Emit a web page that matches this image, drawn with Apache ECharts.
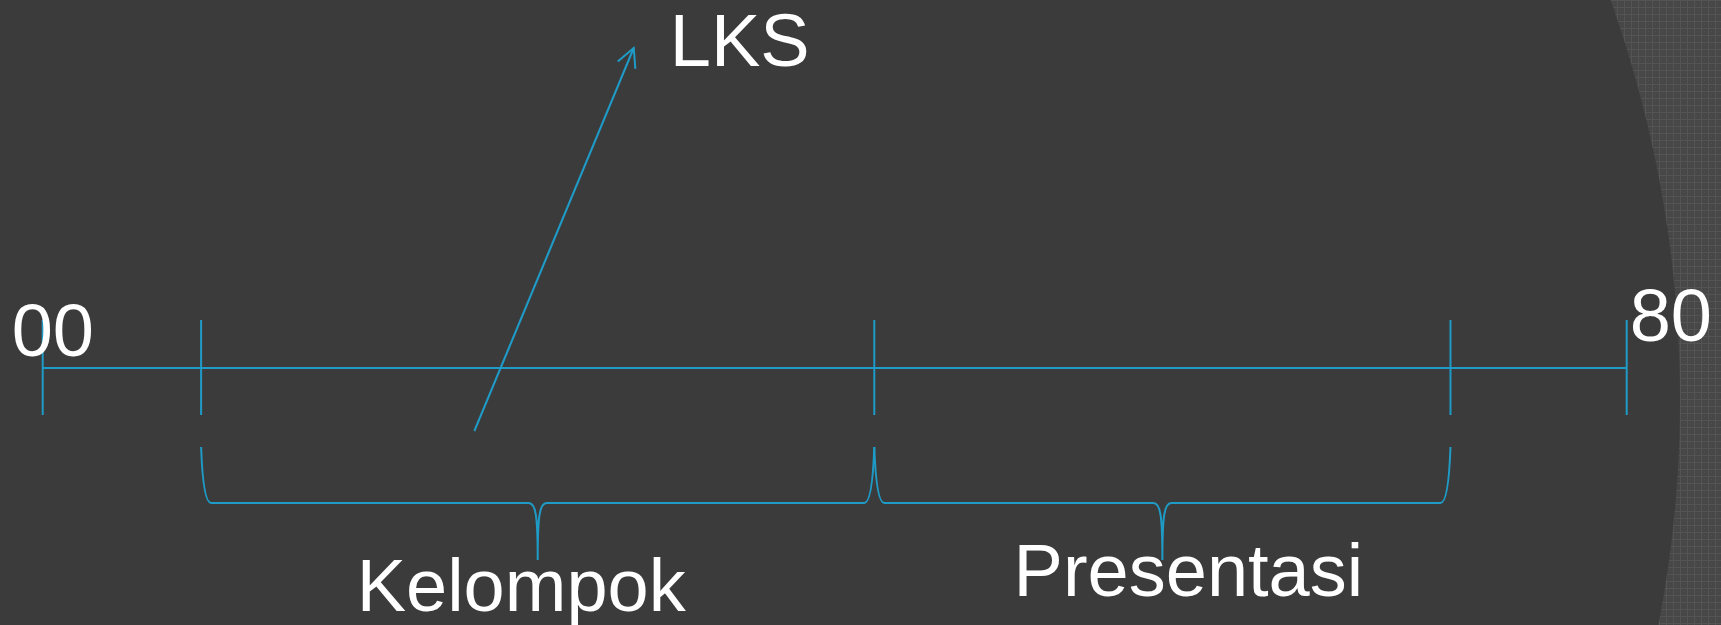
<!DOCTYPE html>
<html>
<head>
<meta charset="utf-8">
<script src="https://cdn.jsdelivr.net/npm/echarts@6.0.0/dist/echarts.min.js"></script>
<style>
  html, body { margin: 0; padding: 0; background: #3b3b3b; }
  #chart { width: 1721px; height: 625px; }
</style>
</head>
<body>
<div id="chart"></div>
<script>
// ---- data ----
const axisMin = 0;
const axisMax = 80;
const tickValues = [0, 8, 42, 71.1, 80];
const tickLabels = ['00', '80'];
const tickLabelValues = [0, 80];
const braceStarts = [8, 42];
const braceEnds = [42, 71.1];
const braceLabels = ['Kelompok', 'Presentasi'];
const arrowFrom = [21.8, 431];
const arrowTo = [29.85, 48];
const arrowLabel = 'LKS';

// ---- style / layout ----
const LINE = '#1f9bc7';
const FONT = '"Liberation Sans", Arial, sans-serif';
const FS = 74;
const AXIS_Y = 368, TICK_TOP = 320, TICK_BOT = 415;
const BR_TOP = 447, BR_MID = 503, BR_BOT = 560;
const tickLabelLayout = [{dx: -31, y: 299}, {dx: 3, y: 284}];
const braceLabelLayout = [{dx: -16.5, y: 554}, {dx: 26, y: 539}];
const arrowLabelLayout = {dx: 36, y: 9};

// texture pattern for right-side area
const pc = document.createElement('canvas');
pc.width = 7; pc.height = 7;
const g = pc.getContext('2d');
g.fillStyle = '#474747'; g.fillRect(0, 0, 7, 7);
g.fillStyle = '#545454'; g.fillRect(0, 0, 7, 1); g.fillRect(0, 0, 1, 7);
g.fillStyle = '#4f4f4f'; g.fillRect(3, 3, 1, 1);

const chart = echarts.init(document.getElementById('chart'), null, {renderer: 'canvas'});

function txt(text, x, y, align) {
  return {type: 'text', x: x, y: y,
    style: {text: text, fill: '#ffffff', fontSize: FS, fontFamily: FONT,
      align: align, verticalAlign: 'top'}};
}

const option = {
  backgroundColor: '#3b3b3b',
  animation: false,
  grid: {left: 42.7, right: 94.3, top: 0, bottom: 0},
  xAxis: {type: 'value', min: axisMin, max: axisMax, show: false},
  yAxis: {type: 'value', min: 0, max: 625, inverse: true, show: false},
  graphic: [
    {type: 'rect', z: -10, silent: true, shape: {x: 0, y: 0, width: 1721, height: 625},
     style: {fill: {image: pc, repeat: 'repeat'}}},
    {type: 'circle', z: -9, silent: true, x: 14, y: 400, scaleX: 1666 / 1400, scaleY: 1,
     shape: {cx: 0, cy: 0, r: 1400}, style: {fill: '#3b3b3b'}}
  ],
  series: [
    {
      type: 'custom', clip: false, silent: true,
      data: tickValues.map(v => [v, AXIS_Y]),
      renderItem: function (params, api) {
        const x = api.value(0);
        const a = api.coord([x, TICK_TOP]);
        const b = api.coord([x, TICK_BOT]);
        const children = [{type: 'line', shape: {x1: a[0], y1: a[1], x2: b[0], y2: b[1]},
          style: {stroke: LINE, lineWidth: 2}}];
        if (params.dataIndex === 0) {
          const s = api.coord([tickValues[0], AXIS_Y]);
          const e = api.coord([tickValues[tickValues.length - 1], AXIS_Y]);
          children.push({type: 'line', shape: {x1: s[0], y1: s[1], x2: e[0], y2: e[1]},
            style: {stroke: LINE, lineWidth: 2}});
        }
        return {type: 'group', children: children};
      }
    },
    {
      type: 'custom', clip: false, silent: true,
      data: tickLabelValues.map(v => [v, AXIS_Y]),
      renderItem: function (params, api) {
        const i = params.dataIndex;
        const p = api.coord([api.value(0), tickLabelLayout[i].y]);
        return txt(tickLabels[i], p[0] + tickLabelLayout[i].dx, p[1], 'left');
      }
    },
    {
      type: 'custom', clip: false, silent: true,
      data: braceStarts.map((s, i) => [s, braceEnds[i]]),
      renderItem: function (params, api) {
        const i = params.dataIndex;
        const x0 = api.coord([api.value(0), BR_TOP])[0];
        const x1 = api.coord([api.value(1), BR_TOP])[0];
        const yT = api.coord([0, BR_TOP])[1];
        const yM = api.coord([0, BR_MID])[1];
        const yB = api.coord([0, BR_BOT])[1];
        const cx = (x0 + x1) / 2;
        const d = 'M' + x0 + ' ' + yT +
          ' Q' + (x0 + 2) + ' ' + yM + ' ' + (x0 + 10) + ' ' + yM +
          ' L' + (cx - 9) + ' ' + yM +
          ' C' + (cx - 2) + ' ' + yM + ' ' + cx + ' ' + (yM + 12) + ' ' + cx + ' ' + yB +
          ' C' + cx + ' ' + (yM + 12) + ' ' + (cx + 2) + ' ' + yM + ' ' + (cx + 9) + ' ' + yM +
          ' L' + (x1 - 10) + ' ' + yM +
          ' Q' + (x1 - 2) + ' ' + yM + ' ' + x1 + ' ' + yT;
        const ly = api.coord([0, braceLabelLayout[i].y])[1];
        return {type: 'group', children: [
          {type: 'path', shape: {pathData: d}, style: {stroke: LINE, lineWidth: 2, fill: null}},
          txt(braceLabels[i], cx + braceLabelLayout[i].dx, ly, 'center')
        ]};
      }
    },
    {
      type: 'custom', clip: false, silent: true,
      data: [[arrowFrom[0], arrowFrom[1], arrowTo[0], arrowTo[1]]],
      renderItem: function (params, api) {
        const a = api.coord([api.value(0), api.value(1)]);
        const b = api.coord([api.value(2), api.value(3)]);
        const dx = a[0] - b[0], dy = a[1] - b[1];
        const L = Math.sqrt(dx * dx + dy * dy);
        const ux = dx / L, uy = dy / L;
        const ang = 27 * Math.PI / 180, wl = 21;
        const w1 = [b[0] + wl * (ux * Math.cos(ang) - uy * Math.sin(ang)), b[1] + wl * (ux * Math.sin(ang) + uy * Math.cos(ang))];
        const w2 = [b[0] + wl * (ux * Math.cos(-ang) - uy * Math.sin(-ang)), b[1] + wl * (ux * Math.sin(-ang) + uy * Math.cos(-ang))];
        const ly = api.coord([0, arrowLabelLayout.y])[1];
        return {type: 'group', children: [
          {type: 'line', shape: {x1: a[0], y1: a[1], x2: b[0], y2: b[1]}, style: {stroke: LINE, lineWidth: 2}},
          {type: 'polyline', shape: {points: [w1, b, w2]}, style: {stroke: LINE, lineWidth: 2, fill: null}},
          txt(arrowLabel, b[0] + arrowLabelLayout.dx, ly, 'left')
        ]};
      }
    }
  ]
};
chart.setOption(option);
</script>
</body>
</html>
